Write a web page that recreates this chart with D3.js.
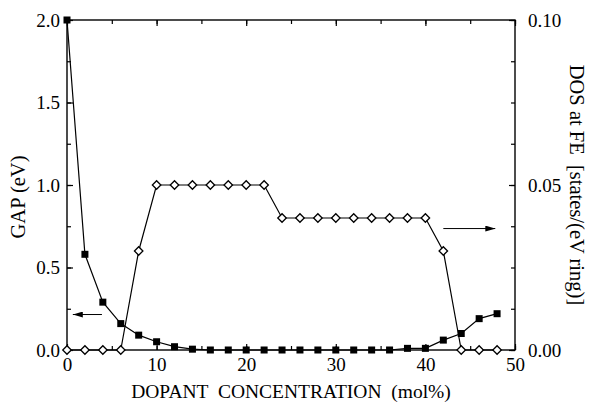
<!DOCTYPE html>
<html>
<head>
<meta charset="utf-8">
<script src="https://cdn.jsdelivr.net/npm/d3@7"></script>
<style>
  html, body { margin: 0; padding: 0; background: #fff; }
  svg { display: block; }
  text { font-family: "Liberation Serif", "Times New Roman", serif; fill: #000; }
</style>
</head>
<body>
<svg id="chart" width="590" height="402"></svg>
<script>
// Dopant concentration (mol%)
const concentration = [0, 2, 4, 6, 8, 10, 12, 14, 16, 18, 20, 22, 24, 26, 28, 30, 32, 34, 36, 38, 40, 42, 44, 46, 48];
// Band gap (eV), left axis
const gapValues = [2.0, 0.58, 0.29, 0.16, 0.09, 0.05, 0.02, 0.005, 0, 0, 0, 0, 0, 0, 0, 0, 0, 0, 0, 0.01, 0.01, 0.06, 0.10, 0.19, 0.22];
// Density of states at the Fermi energy, right axis
const dosValues = [0, 0, 0, 0, 0.03, 0.05, 0.05, 0.05, 0.05, 0.05, 0.05, 0.05, 0.04, 0.04, 0.04, 0.04, 0.04, 0.04, 0.04, 0.04, 0.04, 0.03, 0, 0, 0];

const xTicks = [0, 10, 20, 30, 40, 50];
const gapTicks = [0.0, 0.5, 1.0, 1.5, 2.0];
const dosTicks = [0.00, 0.05, 0.10];

const margin = { left: 67, top: 20, right: 75, bottom: 52 };
const W = 590, H = 402;
const w = W - margin.left - margin.right;
const h = H - margin.top - margin.bottom;

const svg = d3.select("#chart");
const g = svg.append("g").attr("transform", `translate(${margin.left},${margin.top})`);

const x = d3.scaleLinear().domain([0, 50]).range([0, w]);
const yGap = d3.scaleLinear().domain([0, 2]).range([h, 0]);
const yDos = d3.scaleLinear().domain([0, 0.1]).range([h, 0]);

const FS = 19;

function styleAxis(sel) {
  sel.select(".domain").remove();
  sel.selectAll(".tick line").attr("stroke", "#000").attr("stroke-width", 1.2);
  sel.selectAll(".tick text").style("font-size", FS + "px").attr("fill", "#000");
}

// minor ticks (inward, unlabeled)
const xMinor = d3.range(0, 51, 5);
const yMinorGap = d3.range(0, 2.01, 0.25);
const yMinorDos = d3.range(0, 0.1001, 0.0125);

g.append("g").attr("transform", `translate(0,${h})`)
  .call(d3.axisBottom(x).tickValues(xMinor).tickSize(-4).tickFormat(""))
  .call(styleAxis);
g.append("g")
  .call(d3.axisTop(x).tickValues(xMinor).tickSize(-4).tickFormat(""))
  .call(styleAxis);
g.append("g")
  .call(d3.axisLeft(yGap).tickValues(yMinorGap).tickSize(-4).tickFormat(""))
  .call(styleAxis);
g.append("g").attr("transform", `translate(${w},0)`)
  .call(d3.axisRight(yDos).tickValues(yMinorDos).tickSize(-4).tickFormat(""))
  .call(styleAxis);

// major ticks with labels
g.append("g").attr("transform", `translate(0,${h})`)
  .call(d3.axisBottom(x).tickValues(xTicks).tickSize(-6).tickPadding(8).tickFormat(d3.format("d")))
  .call(styleAxis);
g.append("g")
  .call(d3.axisTop(x).tickValues(xTicks).tickSize(-6).tickFormat(""))
  .call(styleAxis);
g.append("g")
  .call(d3.axisLeft(yGap).tickValues(gapTicks).tickSize(-6).tickPadding(7).tickFormat(d3.format(".1f")))
  .call(styleAxis);
g.append("g").attr("transform", `translate(${w},0)`)
  .call(d3.axisRight(yDos).tickValues(dosTicks).tickSize(-6).tickPadding(13).tickFormat(d3.format(".2f")))
  .call(styleAxis);

// frame
g.append("rect").attr("x", 0).attr("y", 0).attr("width", w).attr("height", h)
  .attr("fill", "none").attr("stroke", "#000").attr("stroke-width", 1.4);

// series lines
const gapData = concentration.map((c, i) => ({ c, v: gapValues[i] }));
const dosData = concentration.map((c, i) => ({ c, v: dosValues[i] }));

g.append("path").datum(gapData)
  .attr("fill", "none").attr("stroke", "#000").attr("stroke-width", 1.2)
  .attr("d", d3.line().x(d => x(d.c)).y(d => yGap(d.v)));
g.append("path").datum(dosData)
  .attr("fill", "none").attr("stroke", "#000").attr("stroke-width", 1.2)
  .attr("d", d3.line().x(d => x(d.c)).y(d => yDos(d.v)));

// open diamonds (DOS)
g.selectAll(".dos").data(dosData).enter().append("path")
  .attr("class", "dos")
  .attr("transform", d => `translate(${x(d.c)},${yDos(d.v)}) rotate(45)`)
  .attr("d", "M-3,-3H3V3H-3Z")
  .attr("fill", "#fff").attr("stroke", "#000").attr("stroke-width", 1.3);

// filled squares (gap)
const sq = 7;
g.selectAll(".gap").data(gapData).enter().append("rect")
  .attr("class", "gap")
  .attr("x", d => x(d.c) - sq / 2).attr("y", d => yGap(d.v) - sq / 2)
  .attr("width", sq).attr("height", sq).attr("fill", "#000");

// arrows pointing to each series' axis
const defs = svg.append("defs");
defs.append("marker").attr("id", "head").attr("viewBox", "0 0 10 6")
  .attr("refX", 10).attr("refY", 3).attr("markerWidth", 10).attr("markerHeight", 6)
  .attr("markerUnits", "userSpaceOnUse").attr("orient", "auto")
  .append("path").attr("d", "M0,0L10,3L0,6Z").attr("fill", "#000");

g.append("line")
  .attr("x1", x(3.9)).attr("x2", x(0.65)).attr("y1", yGap(0.215)).attr("y2", yGap(0.215))
  .attr("stroke", "#000").attr("stroke-width", 1).attr("marker-end", "url(#head)");
g.append("line")
  .attr("x1", x(42)).attr("x2", x(47.8)).attr("y1", yDos(0.0368)).attr("y2", yDos(0.0368))
  .attr("stroke", "#000").attr("stroke-width", 1).attr("marker-end", "url(#head)");

// axis titles
svg.append("text")
  .attr("transform", `translate(${margin.left + w / 2},${H - 4})`)
  .attr("text-anchor", "middle").style("font-size", "19.5px")
  .style("white-space", "pre")
  .text("DOPANT  CONCENTRATION  (mol%)");

svg.append("text")
  .attr("transform", `translate(25,${margin.top + 177}) rotate(-90)`)
  .attr("text-anchor", "middle").style("font-size", "20.5px")
  .text("GAP (eV)");

svg.append("text")
  .attr("transform", `translate(570,${margin.top + h / 2}) rotate(90)`)
  .attr("text-anchor", "middle").style("font-size", "20.5px")
  .style("white-space", "pre")
  .text("DOS at FE  [states/(eV ring)]");
</script>
</body>
</html>
